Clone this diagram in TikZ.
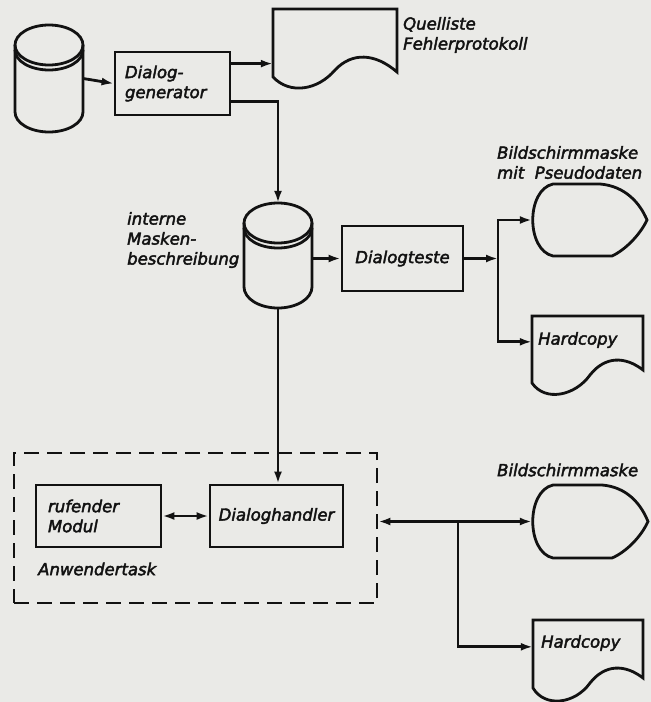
\documentclass[tikz,border=0pt]{standalone}
\usepackage{fontspec}
\newfontfamily\lbl{DejaVu Sans}[FakeBold=2.5]
\usetikzlibrary{arrows.meta,calc}
\definecolor{paper}{RGB}{234,234,231}
\definecolor{ink}{RGB}{18,18,18}
\begin{document}
\begin{tikzpicture}[x=1pt,y=-1pt,
  every node/.style={font=\lbl\itshape\fontsize{16.5}{20}\selectfont, text=ink},
  ln/.style={line width=2.8pt, draw=ink},
  box/.style={ln, rectangle, inner sep=0pt},
  ghost/.style={rectangle, inner sep=0pt, draw=none},
  arr/.style={ln, -{Latex[length=12pt,width=8pt]}},
  darr/.style={ln, {Latex[length=12pt,width=8pt]}-{Latex[length=12pt,width=8pt]}},
  lab/.style={anchor=west, align=left, inner sep=0pt},
  dashbox/.style={ln, dash pattern=on 15pt off 8pt, rectangle, inner sep=0pt},
]
\fill[paper] (0,0) rectangle (651,702);
\useasboundingbox (0,0) rectangle (651,702);

% cylinder 1
\node[ghost, minimum width=68pt, minimum height=107pt] (db1) at (49,78.5) {};
\draw[ln] (15,45) -- (15,112) arc[start angle=180,end angle=0,x radius=34,y radius=20] -- (83,45);
\draw[ln] (49,45) ellipse[x radius=34,y radius=20];
\draw[ln] (15,50) arc[start angle=180,end angle=0,x radius=34,y radius=20];

% cylinder 2
\node[ghost, minimum width=68pt, minimum height=105pt] (db2) at (278,255.5) {};
\draw[ln] (244,223) -- (244,287) arc[start angle=180,end angle=0,x radius=34,y radius=21] -- (312,223);
\draw[ln] (278,223) ellipse[x radius=34,y radius=20];
\draw[ln] (244,228) arc[start angle=180,end angle=0,x radius=34,y radius=20];

% boxes
\node[box, minimum width=115pt, minimum height=63pt, text width=95pt, inner xsep=10pt, align=left] (dg) at (172.5,83.5) {Dialog-\\generator};
\node[box, minimum width=121pt, minimum height=65pt] (dt) at (402.5,258.5) {Dialogteste};
\node[box, minimum width=125pt, minimum height=62pt, text width=101pt, inner xsep=12pt, align=left] (rm) at (98.5,516) {rufender\\Modul};
\node[box, minimum width=133pt, minimum height=62pt] (dh) at (276.5,516) {Dialoghandler};
\node[dashbox, minimum width=363pt, minimum height=150pt] (task) at (195.5,528) {};

% document shapes
\node[ghost, minimum width=124pt, minimum height=80pt] (doc1) at (335,49) {};
\draw[ln] (273,77) -- (273,9) -- (397,9) -- (397,72) .. controls (375,53) and (352,52) .. (335,70) .. controls (318,90) and (290,95) .. cycle;
\node[ghost, minimum width=111pt, minimum height=82pt] (hc1) at (587.5,357) {};
\draw[ln] (532,383) -- (532,316) -- (643,316) -- (643,370) .. controls (625,356) and (605,356) .. (590,375) .. controls (575,396) and (545,402) .. cycle;
\node[ghost, minimum width=110pt, minimum height=80pt] (hc2) at (588,660) {};
\draw[ln] (533,688) -- (533,620) -- (643,620) -- (643,678) .. controls (625,664) and (605,664) .. (590,683) .. controls (575,704) and (545,708) .. cycle;

% display shapes
\node[ghost, minimum width=115pt, minimum height=72pt] (disp1) at (589.5,220) {};
\draw[ln] (553,184) -- (600,184) .. controls (625,186) and (640,203) .. (647,220) .. controls (640,235) and (625,250) .. (612,256) -- (553,256) .. controls (526,250) and (526,190) .. cycle;
\node[ghost, minimum width=116pt, minimum height=73pt] (disp2) at (590,521.5) {};
\draw[ln] (553,485) -- (602,485) .. controls (627,487) and (641,504) .. (648,521.5) .. controls (641,537) and (626,552) .. (612,558) -- (553,558) .. controls (526,552) and (526,491) .. cycle;

% labels
\node[lab] at (403,35) {Quelliste\\Fehlerprotokoll};
\node[lab] at (497,162.5) {Bildschirmmaske\\mit\ \ Pseudodaten};
\node[lab] at (127,240) {interne\\Masken-\\beschreibung};
\node[lab] at (538,340) {Hardcopy};
\node[lab] at (541,643) {Hardcopy};
\node[lab] at (497,470) {Bildschirmmaske};
\node[lab] at (38,569) {Anwendertask};

% connectors
\draw[arr] (db1.east) -- (dg.west);
\draw[arr] ([yshift=-13pt]dg.north east) -- ([yshift=-13pt]dg.north east -| doc1.west);
\draw[arr] ([yshift=-51pt]dg.north east) -| (db2.north);
\draw[arr] (db2.east |- dt.west) -- (dt.west);
\coordinate (j1) at (498,258.5);
\draw[arr] (dt.east) -- (j1);
\draw[arr] (j1) |- (disp1.west);
\draw[arr] (j1) |- ([yshift=-26pt]hc1.north west);
\draw[arr] (db2.south) -- (db2.south |- dh.north);
\draw[darr] (rm.east) -- (dh.west);
\draw[darr] (task.east |- disp2.west) -- (disp2.west);
\coordinate (j2) at (458,521.5);
\draw[arr] (j2) |- ([yshift=-27pt]hc2.north west);
\end{tikzpicture}
\end{document}
